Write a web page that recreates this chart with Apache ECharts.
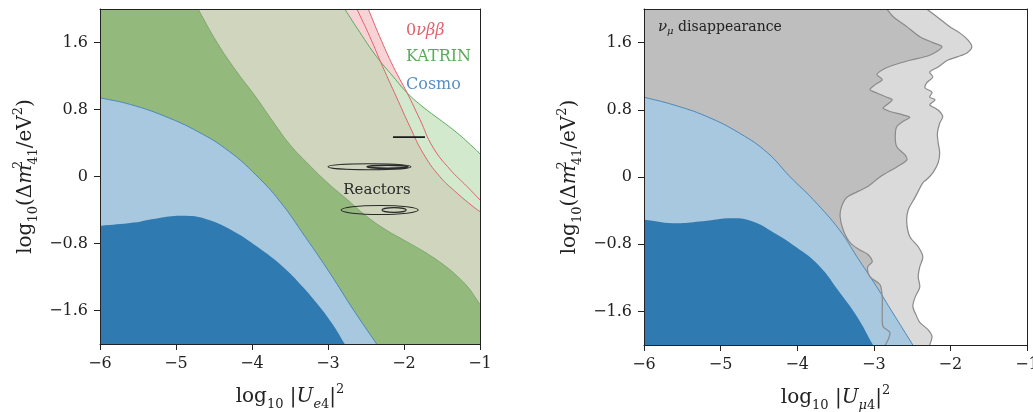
<!DOCTYPE html>
<html><head><meta charset="utf-8">
<script src="https://cdn.jsdelivr.net/npm/echarts@6/dist/echarts.min.js"></script>
<style>html,body{margin:0;padding:0;background:#fff}#c{width:1033px;height:412px}</style>
</head><body><div id="c"></div>
<script>
// ---- ticks ----
const xTicks = [-6, -5, -4, -3, -2, -1];
const yTicks = [-1.6, -0.8, 0, 0.8, 1.6];

// ---- left panel (U_e4) boundary curves, [log10|U|^2, log10 dm2] ----
const katrinEdge = [[-2.78,2.0],[-2.58,1.72],[-2.36,1.43],[-2.14,1.19],[-1.96,1.0],[-1.75,0.83],[-1.53,0.68],[-1.30,0.52],[-1.09,0.35],[-1.0,0.27]];
const bbInnerEdge = [[-2.62,2.0],[-2.45,1.67],[-2.28,1.31],[-2.10,0.95],[-1.92,0.59],[-1.75,0.28],[-1.53,0.0],[-1.30,-0.2],[-1.09,-0.36],[-1.0,-0.42]];
const bbOuterEdge = [[-2.47,2.0],[-2.32,1.67],[-2.14,1.31],[-1.96,1.0],[-1.79,0.68],[-1.62,0.35],[-1.39,0.08],[-1.17,-0.12],[-1.0,-0.28]];
const overlapCross = [-2.30, 1.34];
const katrinDarkEdge = [[-4.71,2.0],[-4.46,1.6],[-4.2,1.25],[-3.95,0.95],[-3.72,0.65],[-3.5,0.38],[-3.25,0.14],[-3.0,-0.08],[-2.74,-0.28],[-2.5,-0.47],[-2.25,-0.63],[-2.0,-0.76],[-1.75,-0.89],[-1.5,-1.04],[-1.3,-1.19],[-1.15,-1.33],[-1.05,-1.46],[-1.0,-1.53]];
const cosmoOuterE = [[-6,0.94],[-5.6,0.86],[-5.15,0.72],[-4.7,0.53],[-4.3,0.3],[-3.95,0.02],[-3.63,-0.3],[-3.3,-0.72],[-2.97,-1.16],[-2.66,-1.6],[-2.36,-2.0]];
const cosmoInnerE = [[-6,-0.59],[-5.56,-0.55],[-5.25,-0.5],[-4.91,-0.47],[-4.6,-0.51],[-4.25,-0.65],[-3.93,-0.84],[-3.59,-1.08],[-3.35,-1.3],[-3.15,-1.51],[-2.95,-1.75],[-2.78,-2.0]];
// reactor contours: [centre x, centre y, half-width, half-height, line width]
const reactorEllipses = [[-2.454,0.117,0.546,0.036,1.1],[-2.217,0.117,0.27,0.018,1.6],[-2.32,-0.40,0.507,0.054,1.1],[-2.13,-0.40,0.16,0.028,1.1]];
const reactorBar = [[-2.145,0.47],[-1.724,0.47]];

// ---- right panel (U_mu4) ----
const numuInnerEdge = [[-2.83,2.0],[-2.75,1.91],[-2.57,1.79],[-2.40,1.67],[-2.23,1.60],[-2.11,1.55],[-2.27,1.45],[-2.53,1.39],[-2.75,1.33],[-2.88,1.28],[-2.96,1.22],[-2.89,1.16],[-2.98,1.10],[-3.05,1.04],[-2.96,1.00],[-2.83,0.95],[-2.76,0.92],[-2.83,0.86],[-2.88,0.82],[-2.79,0.78],[-2.62,0.74],[-2.53,0.71],[-2.62,0.66],[-2.70,0.60],[-2.72,0.48],[-2.70,0.36],[-2.59,0.26],[-2.57,0.20],[-2.70,0.12],[-2.92,0.00],[-3.09,-0.12],[-3.35,-0.24],[-3.42,-0.35],[-3.44,-0.47],[-3.40,-0.63],[-3.31,-0.78],[-3.18,-0.87],[-3.08,-0.92],[-3.02,-1.01],[-3.08,-1.07],[-3.05,-1.19],[-2.92,-1.28],[-2.89,-1.43],[-2.89,-1.62],[-2.88,-1.78],[-2.79,-1.85],[-2.81,-1.93],[-2.85,-2.0]];
const numuOuterEdge = [[-2.31,2.0],[-2.18,1.91],[-2.01,1.79],[-1.87,1.71],[-1.77,1.63],[-1.72,1.55],[-1.78,1.48],[-1.91,1.43],[-2.04,1.39],[-2.16,1.31],[-2.27,1.25],[-2.23,1.19],[-2.31,1.12],[-2.33,1.06],[-2.24,1.01],[-2.27,0.95],[-2.20,0.92],[-2.27,0.86],[-2.20,0.82],[-2.14,0.78],[-2.10,0.72],[-2.14,0.64],[-2.17,0.52],[-2.16,0.41],[-2.14,0.29],[-2.16,0.17],[-2.23,0.05],[-2.31,-0.03],[-2.36,-0.07],[-2.46,-0.24],[-2.55,-0.39],[-2.57,-0.54],[-2.53,-0.71],[-2.42,-0.83],[-2.36,-0.95],[-2.40,-1.07],[-2.42,-1.19],[-2.40,-1.31],[-2.46,-1.43],[-2.49,-1.54],[-2.44,-1.66],[-2.40,-1.73],[-2.29,-1.82],[-2.24,-1.90],[-2.27,-2.0]];
const cosmoOuterMu = [[-6,0.95],[-5.62,0.86],[-5.18,0.72],[-4.75,0.52],[-4.39,0.29],[-4.09,0.0],[-3.79,-0.27],[-3.44,-0.64],[-3.22,-0.95],[-2.96,-1.31],[-2.75,-1.62],[-2.49,-2.0]];
const cosmoInnerMu = [[-6,-0.51],[-5.62,-0.55],[-5.27,-0.53],[-4.84,-0.49],[-4.58,-0.53],[-4.31,-0.66],[-4.02,-0.83],[-3.72,-1.05],[-3.44,-1.38],[-3.22,-1.66],[-3.01,-2.0]];

const XMIN = -6, XMAX = -1, YMIN = -2, YMAX = 2;
const F = 'DejaVu Serif';
const INK = '#222';

// extend an edge a little beyond the frame along its own direction, so smoothing is clean at the frame
function extended(edge) {
  const a = edge[0], b = edge[1], y = edge[edge.length - 1], z = edge[edge.length - 2];
  const k = 0.6;
  return [[a[0] + (a[0] - b[0]) * k, a[1] + (a[1] - b[1]) * k]].concat(edge)
    .concat([[y[0] + (y[0] - z[0]) * k, y[1] + (y[1] - z[1]) * k]]);
}
function region(edge) {
  const e = extended(edge);
  const pts = [[XMIN - 1, YMIN - 1]];
  if (edge[0][0] > XMIN) pts.push([XMIN - 1, YMAX + 1]);
  e.forEach(p => pts.push(p));
  const last = edge[edge.length - 1];
  if (last[0] >= XMAX) pts.push([XMAX + 1, YMIN - 1]);
  return pts;
}
function clipRect(params) {
  const c = params.coordSys;
  return {type: 'rect', shape: {x: c.x, y: c.y, width: c.width, height: c.height}};
}
function polySeries(g, pts, fill, sm) {
  return {type: 'custom', xAxisIndex: g * 2, yAxisIndex: g * 2, data: pts, silent: true, animation: false, clip: true,
    renderItem: function (params, api) {
      if (params.dataIndex !== 0) return null;
      return {type: 'polygon', clipPath: clipRect(params),
        shape: {points: pts.map(p => api.coord(p)), smooth: sm},
        style: {fill: fill, stroke: null}};
    }};
}
function lineSeries(g, pts, color, w, sm) {
  return {type: 'custom', xAxisIndex: g * 2, yAxisIndex: g * 2, data: pts, silent: true, animation: false, clip: true,
    renderItem: function (params, api) {
      if (params.dataIndex !== 0) return null;
      return {type: 'polyline', clipPath: clipRect(params),
        shape: {points: pts.map(p => api.coord(p)), smooth: sm},
        style: {fill: null, stroke: color, lineWidth: w}};
    }};
}
const fmt = v => (v < 0 ? '\u2212' : '') + String(Math.abs(Math.round(v * 10) / 10));

const richBase = {
  n: {fontFamily: F, fontSize: 20, color: INK, lineHeight: 28},
  i: {fontFamily: F, fontSize: 20, color: INK, lineHeight: 28, fontStyle: 'italic'},
  s: {fontFamily: F, fontSize: 13, color: INK, lineHeight: 13, verticalAlign: 'bottom'},
  si: {fontFamily: F, fontSize: 13, color: INK, lineHeight: 13, verticalAlign: 'bottom', fontStyle: 'italic'},
  p: {fontFamily: F, fontSize: 13, color: INK, lineHeight: 13, verticalAlign: 'top'},
  p0: {fontFamily: F, fontSize: 13, color: INK, lineHeight: 13, verticalAlign: 'top', width: 0.1}
};
const yName = '{n|log}{s|10}{n|(\u0394}{i|m}{p0|2}{s|41}{n|/eV}{p|2}{n|)}';

function axesFor(g, xName) {
  const xs = [
    {type: 'value', gridIndex: g, min: XMIN, max: XMAX, interval: 1, position: 'bottom', z: 10,
      axisLine: {show: true, onZero: false, lineStyle: {color: INK, width: 1}},
      axisTick: {show: true, inside: false, length: 6, lineStyle: {color: INK, width: 1}},
      axisLabel: {show: true, margin: 12, fontFamily: F, fontSize: 16, color: INK, formatter: fmt, showMinLabel: true, showMaxLabel: true},
      splitLine: {show: false},
      name: xName, nameLocation: 'middle', nameGap: 39, nameTextStyle: {rich: richBase}},
    {type: 'value', gridIndex: g, min: XMIN, max: XMAX, position: 'top', z: 10,
      axisLine: {show: true, onZero: false, lineStyle: {color: INK, width: 1}},
      axisTick: {show: false}, axisLabel: {show: false}, splitLine: {show: false}}
  ];
  const ys = [
    {type: 'value', gridIndex: g, min: YMIN, max: YMAX, position: 'left', z: 10,
      axisLine: {show: true, onZero: false, lineStyle: {color: INK, width: 1}},
      axisTick: {show: true, inside: false, length: 6, customValues: yTicks, lineStyle: {color: INK, width: 1}},
      axisLabel: {show: true, margin: 12, customValues: yTicks, fontFamily: F, fontSize: 16, color: INK, formatter: fmt},
      splitLine: {show: false},
      name: yName, nameLocation: 'middle', nameRotate: 90, nameGap: 60, nameTextStyle: {rich: richBase}},
    {type: 'value', gridIndex: g, min: YMIN, max: YMAX, position: 'right', z: 10,
      axisLine: {show: true, onZero: false, lineStyle: {color: INK, width: 1}},
      axisTick: {show: false}, axisLabel: {show: false}, splitLine: {show: false}}
  ];
  return {xs, ys};
}
const A0 = axesFor(0, '{n|log}{s|10}{n| |}{i|U}{si|e}{s|4}{n||}{p|2}');
const A1 = axesFor(1, '{n|log}{s|10}{n| |}{i|U}{si|\u03bc}{s|4}{n||}{p|2}');

const C = {
  pink: '#f7d3d6', lgreen: '#d2e9cd', beige: '#d0d6bd', dgreen: '#94b97d',
  lblue: '#a7c8de', dblue: '#2f7ab1', red: '#e0616b', green: '#5aaa5a', bedge: '#4d88bb',
  dgray: '#bebebe', lgray: '#dadada', gedge: '#8a8a8a'
};

const beigeEdge = katrinEdge.filter(p => p[1] > overlapCross[1]).concat([overlapCross]).concat(bbInnerEdge.filter(p => p[1] < overlapCross[1]));
const S = 0.45, SW = 0.3;

const series = [
  // left panel
  polySeries(0, region(bbOuterEdge), C.pink, S),
  polySeries(0, region(katrinEdge), C.lgreen, S),
  polySeries(0, region(beigeEdge), C.beige, S),
  polySeries(0, region(katrinDarkEdge), C.dgreen, S),
  lineSeries(0, extended(katrinDarkEdge), '#72a064', 0.8, S),
  polySeries(0, region(cosmoOuterE), C.lblue, S),
  lineSeries(0, extended(cosmoOuterE), C.bedge, 1, S),
  polySeries(0, region(cosmoInnerE), C.dblue, S),
  lineSeries(0, extended(katrinEdge), C.green, 1, S),
  lineSeries(0, extended(bbInnerEdge), C.red, 1, S),
  lineSeries(0, extended(bbOuterEdge), C.red, 1, S),
  {type: 'custom', xAxisIndex: 0, yAxisIndex: 0, data: reactorEllipses, silent: true, animation: false, clip: true,
    renderItem: function (params, api) {
      const c = api.coord([api.value(0), api.value(1)]);
      const s = api.size([api.value(2), api.value(3)]);
      return {type: 'ellipse', shape: {cx: c[0], cy: c[1], rx: s[0], ry: Math.max(s[1], 1.2)},
        style: {fill: null, stroke: '#2a2a2a', lineWidth: api.value(4)}};
    }},
  lineSeries(0, reactorBar, '#1a1a1a', 1.8, 0),
  // right panel
  polySeries(1, region(numuOuterEdge), C.lgray, SW),
  polySeries(1, region(numuInnerEdge), C.dgray, SW),
  polySeries(1, region(cosmoOuterMu), C.lblue, S),
  lineSeries(1, extended(cosmoOuterMu), C.bedge, 1, S),
  polySeries(1, region(cosmoInnerMu), C.dblue, S),
  lineSeries(1, extended(numuOuterEdge), C.gedge, 1.2, SW),
  lineSeries(1, extended(numuInnerEdge), C.gedge, 1.2, SW)
];

const chart = echarts.init(document.getElementById('c'), null, {renderer: 'canvas'});
chart.setOption({
  backgroundColor: '#ffffff',
  animation: false,
  grid: [
    {left: 100, top: 9, width: 380, height: 335, containLabel: false, outerBoundsMode: 'none'},
    {left: 644, top: 9, width: 383, height: 336, containLabel: false, outerBoundsMode: 'none'}
  ],
  xAxis: A0.xs.concat(A1.xs),
  yAxis: A0.ys.concat(A1.ys),
  series: series,
  graphic: [
    {type: 'text', x: 406, y: 31, z: 100, style: {text: '{a|0}{b|\u03bd\u03b2\u03b2}', verticalAlign: 'middle',
      rich: {a: {fontFamily: F, fontSize: 16, fill: C.red}, b: {fontFamily: F, fontSize: 16, fill: C.red, fontStyle: 'italic'}}}},
    {type: 'text', x: 406, y: 57, z: 100, style: {text: 'KATRIN', fontFamily: F, fontSize: 16, fill: C.green, verticalAlign: 'middle'}},
    {type: 'text', x: 406, y: 85, z: 100, style: {text: 'Cosmo', fontFamily: F, fontSize: 16, fill: '#5b8fc2', verticalAlign: 'middle'}},
    {type: 'text', x: 377, y: 190, z: 100, style: {text: 'Reactors', fontFamily: F, fontSize: 15, fill: '#2a2a2a', align: 'center', verticalAlign: 'middle'}},
    {type: 'text', x: 658, y: 27, z: 100, style: {text: '{v|\u03bd}{m|\u03bc}{t| disappearance}', verticalAlign: 'middle',
      rich: {v: {fontFamily: F, fontSize: 15, fill: INK, fontStyle: 'italic', lineHeight: 18},
             m: {fontFamily: F, fontSize: 10, fill: INK, fontStyle: 'italic', lineHeight: 12, verticalAlign: 'bottom'},
             t: {fontFamily: F, fontSize: 14, fill: INK, lineHeight: 18}}}}
  ]
});
</script></body></html>
